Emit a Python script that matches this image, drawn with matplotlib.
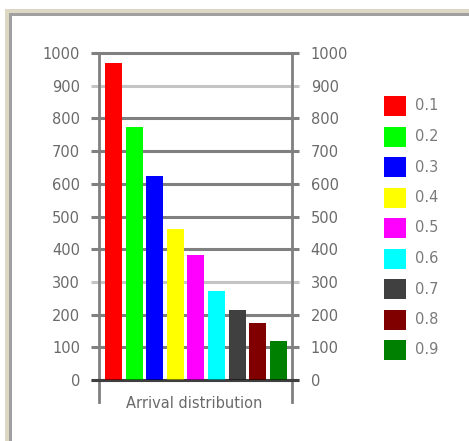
import matplotlib.pyplot as plt
from matplotlib.patches import Rectangle
import matplotlib.transforms as mtransforms

# arrival rate per category
categories = ["0.1", "0.2", "0.3", "0.4", "0.5", "0.6", "0.7", "0.8", "0.9"]
values = [968, 775, 625, 462, 382, 272, 215, 175, 120]
colors = ["#ff0000", "#00ff00", "#0000ff", "#ffff00", "#ff00ff",
          "#00ffff", "#404040", "#800000", "#008000"]
yticks = [0, 100, 200, 300, 400, 500, 600, 700, 800, 900, 1000]
light_lines = [300, 900]
xlabel = "Arrival distribution"

W, H = 469, 441
fig = plt.figure(figsize=(W / 100, H / 100), dpi=100)
fig.set_facecolor("white")


def px(x, y, w, h):
    # pixel box (top-left origin) -> figure fraction rect
    return (x / W, 1 - (y + h) / H, w / W, h / H)


# window frame: beige strip + gray border
for (x, y, w, h), c in [((5, 9, W, 4), "#dcd8c4"), ((5, 9, 4, H), "#dcd8c4"),
                        ((9, 13, W, 3), "#a0a0a0"), ((9, 13, 3, H), "#a0a0a0")]:
    l, b, ww, hh = px(x, y, w, h)
    fig.add_artist(Rectangle((l, b), ww, hh, transform=fig.transFigure,
                             facecolor=c, edgecolor="none"))

ax = fig.add_axes([99 / W, (H - 402) / H, 193 / W, 349 / H])
ax.set_facecolor("none")

ax.bar(range(len(values)), values, width=0.83, color=colors, zorder=2)
ax.set_xlim(-0.705, 8.665)
ax.set_ylim(-67, 1000)

# horizontal lines running a bit past both axes
trans = mtransforms.blended_transform_factory(ax.transAxes, ax.transData)
for t in yticks:
    c = "#c4c4c4" if t in light_lines else "#808080"
    ax.plot([-8 / 193, 1 + 7 / 193], [t, t], transform=trans, color=c,
            linewidth=2.2, clip_on=False, zorder=1, solid_capstyle="butt")
# the zero line sits over the bars
ax.plot([-8 / 193, 1 + 7 / 193], [0, 0], transform=trans, color="black",
        alpha=0.5, linewidth=2.2, clip_on=False, zorder=3, solid_capstyle="butt")

for s in ["top", "bottom"]:
    ax.spines[s].set_visible(False)
for s in ["left", "right"]:
    ax.spines[s].set_color("#808080")
    ax.spines[s].set_linewidth(2)

ax.set_xticks([])
ax.set_yticks(yticks)
ax.tick_params(axis="y", length=0, labelcolor="#6a6a6a", labelsize=10.5,
               left=True, right=True, labelleft=True, labelright=True)
for t in ax.yaxis.get_major_ticks():
    t.set_pad(13.5)

fig.text(194 / W, 1 - 403 / H, xlabel, ha="center", va="center",
         fontsize=10.5, color="#6a6a6a")

# legend boxes
for i, (lab, c) in enumerate(zip(categories, colors)):
    yc = 106 + i * 30.5
    l, b, ww, hh = px(384, yc - 10, 22, 20)
    fig.add_artist(Rectangle((l, b), ww, hh, transform=fig.transFigure,
                             facecolor=c, edgecolor="none"))
    fig.text(415 / W, 1 - yc / H, lab, ha="left", va="center",
             fontsize=10.5, color="#7a7a7a")

plt.savefig("out.png", dpi=100)
